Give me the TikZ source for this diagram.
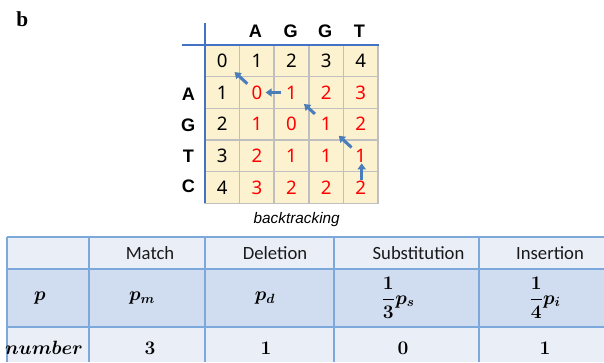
\documentclass[tikz,border=0pt]{standalone}
\usepackage{amsmath}
\usepackage{fontspec}
\usetikzlibrary{arrows.meta}

\newfontfamily\gridfont{Noto Sans}
\newfontfamily\letterfont{Liberation Sans}
\newfontfamily\tabfont{Carlito}
\newfontfamily\panelfont{Liberation Serif}

\definecolor{cellfill}{RGB}{253,242,208}
\definecolor{cellline}{RGB}{191,191,191}
\definecolor{axisblue}{RGB}{68,114,196}
\definecolor{arrowblue}{RGB}{74,126,187}
\definecolor{tabline}{RGB}{124,168,220}
\definecolor{tablight}{RGB}{233,238,247}
\definecolor{tabdark}{RGB}{208,220,239}
\definecolor{numred}{RGB}{255,0,0}

\begin{document}
\begin{tikzpicture}[x=0.75pt,y=-0.75pt,
  cell/.style={draw=cellline, line width=1.1pt, fill=cellfill,
    minimum width=25.95pt, minimum height=23.75pt, inner sep=0pt,
    font=\gridfont\fontsize{14}{16}\selectfont},
  seqletter/.style={inner sep=0pt, font=\letterfont\bfseries\fontsize{13.6}{16}\selectfont},
  axis/.style={draw=axisblue, line width=1.5pt},
  back/.style={draw=arrowblue, line width=2.3pt,
    -{Triangle[length=4.5pt,width=6pt]}},
  tabtext/.style={inner sep=0pt, text=black!90, font=\tabfont\fontsize{14}{16}\selectfont},
  tabmath/.style={inner sep=0pt, font=\fontsize{14}{17}\selectfont\boldmath},
  tabrule/.style={draw=tabline, line width=1.5pt}
]
\useasboundingbox (0,0) rectangle (604,362);

% panel label
\node[anchor=base west, inner sep=0pt,
  font=\panelfont\bfseries\fontsize{16}{18}\selectfont] (lbl) at (16,26.7) {b};

% edit-distance matrix
\foreach \r/\vals in {0/{0,1,2,3,4},1/{1,0,1,2,3},2/{2,1,0,1,2},3/{3,2,1,1,1},4/{4,3,2,2,2}}{
  \foreach \v [count=\c from 0] in \vals {
    \node[cell] (c\r\c) at ({205+34.6*(\c+0.5)},{45+31.67*(\r+0.5)})
      {\ifnum\r=0 \else\ifnum\c=0 \else\color{numred}\fi\fi\v};
  }
}

% axes of the matrix
\draw[axis] (205,23.3) -- (205,203.3);
\draw[axis] (181.7,45) -- (379,45);

% sequence letters
\node[seqletter] (h1) at (255.5,31.7) {A};
\node[seqletter] (h2) at (290.7,31.7) {G};
\node[seqletter] (h3) at (325.3,31.7) {G};
\node[seqletter] (h4) at (359.5,31.7) {T};
\node[seqletter] (v1) at (188.3,94) {A};
\node[seqletter] (v2) at (188.3,125) {G};
\node[seqletter] (v3) at (188.3,156) {T};
\node[seqletter] (v4) at (188.3,186) {C};

% backtracking path
\draw[back, shorten <=5.6pt, shorten >=5.6pt] ([xshift=0.75pt]c44.center) -- ([xshift=0.75pt]c34.center);
\draw[back, shorten <=9.3pt, shorten >=12.9pt] (c34.center) -- (c23.center);
\draw[back, shorten <=11.4pt, shorten >=12.75pt] (c23.center) -- (c12.center);
\draw[back, shorten <=7.6pt, shorten >=6.5pt] (c12.center) -- (c11.center);
\draw[back, shorten <=9.7pt, shorten >=12.5pt] (c11.center) -- (c00.center);

\node[inner sep=0pt, font=\letterfont\itshape\fontsize{11.5}{14}\selectfont] (cap) at (296.7,220) {backtracking};

% probability table
\fill[tablight] (6.7,236.7) rectangle (604,269.3);
\fill[tabdark] (6.7,269.3) rectangle (604,326.7);
\fill[tablight] (6.7,326.7) rectangle (604,362);
\foreach \y in {236.7,269.3,326.7} \draw[tabrule] (6.7,\y) -- (604,\y);
\foreach \x in {6.7,89.3,204.6,333.8,479.3} \draw[tabrule] (\x,236.7) -- (\x,362);

\node[tabtext] (tm) at (150,253.5) {Match};
\node[tabtext] (td) at (275,253.5) {Deletion};
\node[tabtext] (ts) at (418.5,253.5) {Substitution};
\node[tabtext] (ti) at (550,253.5) {Insertion};

\node[tabmath] (pp) at (40,298) {$p$};
\node[tabmath] (pm) at (142,298) {$p_m$};
\node[tabmath] (pd) at (265,298) {$p_d$};
\node[tabmath] (ps) at (398,298) {$\dfrac{1}{3}p_s$};
\node[tabmath] (pi) at (545,298) {$\dfrac{1}{4}p_i$};

\node[tabmath, font=\fontsize{13.4}{16}\selectfont\boldmath] (nn) at (44,348) {$number$};
\node[tabmath] (nm) at (150,348) {$3$};
\node[tabmath] (nd) at (266,348) {$1$};
\node[tabmath] (ns) at (403,348) {$0$};
\node[tabmath] (ni) at (545,348) {$1$};
\end{tikzpicture}
\end{document}
